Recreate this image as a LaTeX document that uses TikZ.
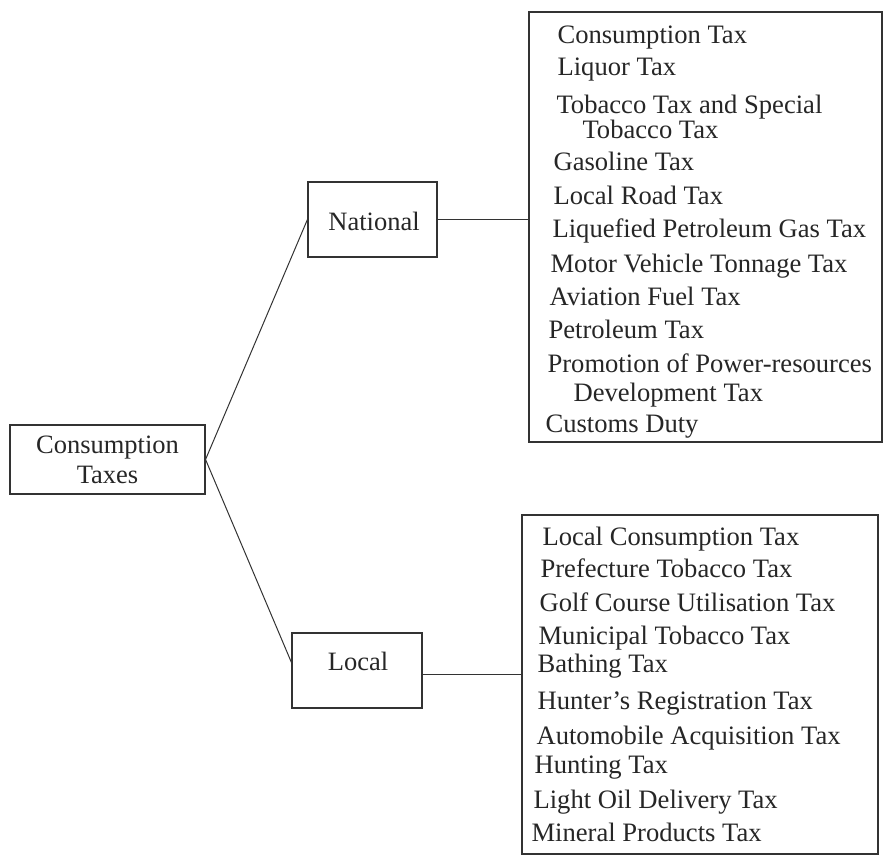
\documentclass[tikz,border=0pt]{standalone}
\usepackage{fontspec}
\setmainfont{Liberation Serif}
\begin{document}
\begin{tikzpicture}[x=1pt,y=-1pt,
  line width=1.1pt,
  ink/.style={draw=black!80},
  box/.style={ink, rectangle, inner sep=0pt, text=black!80,
    font=\fontsize{26.5}{26.5}\selectfont, align=center},
  listbox/.style={ink, rectangle, inner sep=0pt},
  item/.style={anchor=mid west, inner sep=0pt, text=black!85,
    font=\fontsize{26.6}{26.6}\selectfont, yshift=-6pt},
  label/.style={anchor=center, inner sep=0pt, text=black!85,
    font=\fontsize{26.5}{26.5}\selectfont},
  link/.style={ink, line width=1pt}]
\useasboundingbox (0,0) rectangle (887,856);

% main category boxes
\node[box, minimum width=195pt, minimum height=69pt] (ct) at (107.5,459.5) {};
\node[label] (ct1) at (107.5,448) {Consumption};
\node[label] (ct2) at (107.5,475) {Taxes};

\node[box, minimum width=129pt, minimum height=75pt] (national) at (372.5,219.5) {};
\node[label] (nattxt) at (374,221) {National};

\node[box, minimum width=130pt, minimum height=75pt] (local) at (357,670.5) {};
\node[label] (loctxt) at (358,661) {Local};

% list frames
\node[listbox, minimum width=353pt, minimum height=430pt] (natlist) at (705.5,227) {};
\node[listbox, minimum width=356pt, minimum height=339pt] (loclist) at (700,684.5) {};

% national taxes
\node[item] (n1)  at (557,35)  {Consumption Tax};
\node[item] (n2)  at (557,67)  {Liquor Tax};
\node[item] (n3)  at (556,105) {Tobacco Tax and Special};
\node[item] (n3b) at (582,130) {Tobacco Tax};
\node[item] (n4)  at (553,162) {Gasoline Tax};
\node[item] (n5)  at (553,196) {Local Road Tax};
\node[item] (n6)  at (552,229) {Liquefied Petroleum Gas Tax};
\node[item] (n7)  at (550,264) {Motor Vehicle Tonnage Tax};
\node[item] (n8)  at (549,297) {Aviation Fuel Tax};
\node[item] (n9)  at (548,330) {Petroleum Tax};
\node[item] (n10) at (547,364) {Promotion of Power-resources};
\node[item] (n10b)at (573,393) {Development Tax};
\node[item] (n11) at (545,424) {Customs Duty};

% local taxes
\node[item] (l1)  at (542,537) {Local Consumption Tax};
\node[item] (l2)  at (540,569) {Prefecture Tobacco Tax};
\node[item] (l3)  at (539,603) {Golf Course Utilisation Tax};
\node[item] (l4)  at (538,636) {Municipal Tobacco Tax};
\node[item] (l5)  at (537,664) {Bathing Tax};
\node[item] (l6)  at (537,701) {Hunter’s Registration Tax};
\node[item] (l7)  at (536,736) {Automobile Acquisition Tax};
\node[item] (l8)  at (534,765) {Hunting Tax};
\node[item] (l9)  at (533,800) {Light Oil Delivery Tax};
\node[item] (l10) at (531,833) {Mineral Products Tax};

% connectors
\draw[link] (ct.east) -- (national.west);
\draw[link] (ct.east) -- ([yshift=8pt]local.west);
\draw[link] (national.east) -- (national.east -| natlist.west);
\draw[link] ([yshift=-4pt]local.east) -- ([yshift=-4pt]local.east -| loclist.west);
\end{tikzpicture}
\end{document}
